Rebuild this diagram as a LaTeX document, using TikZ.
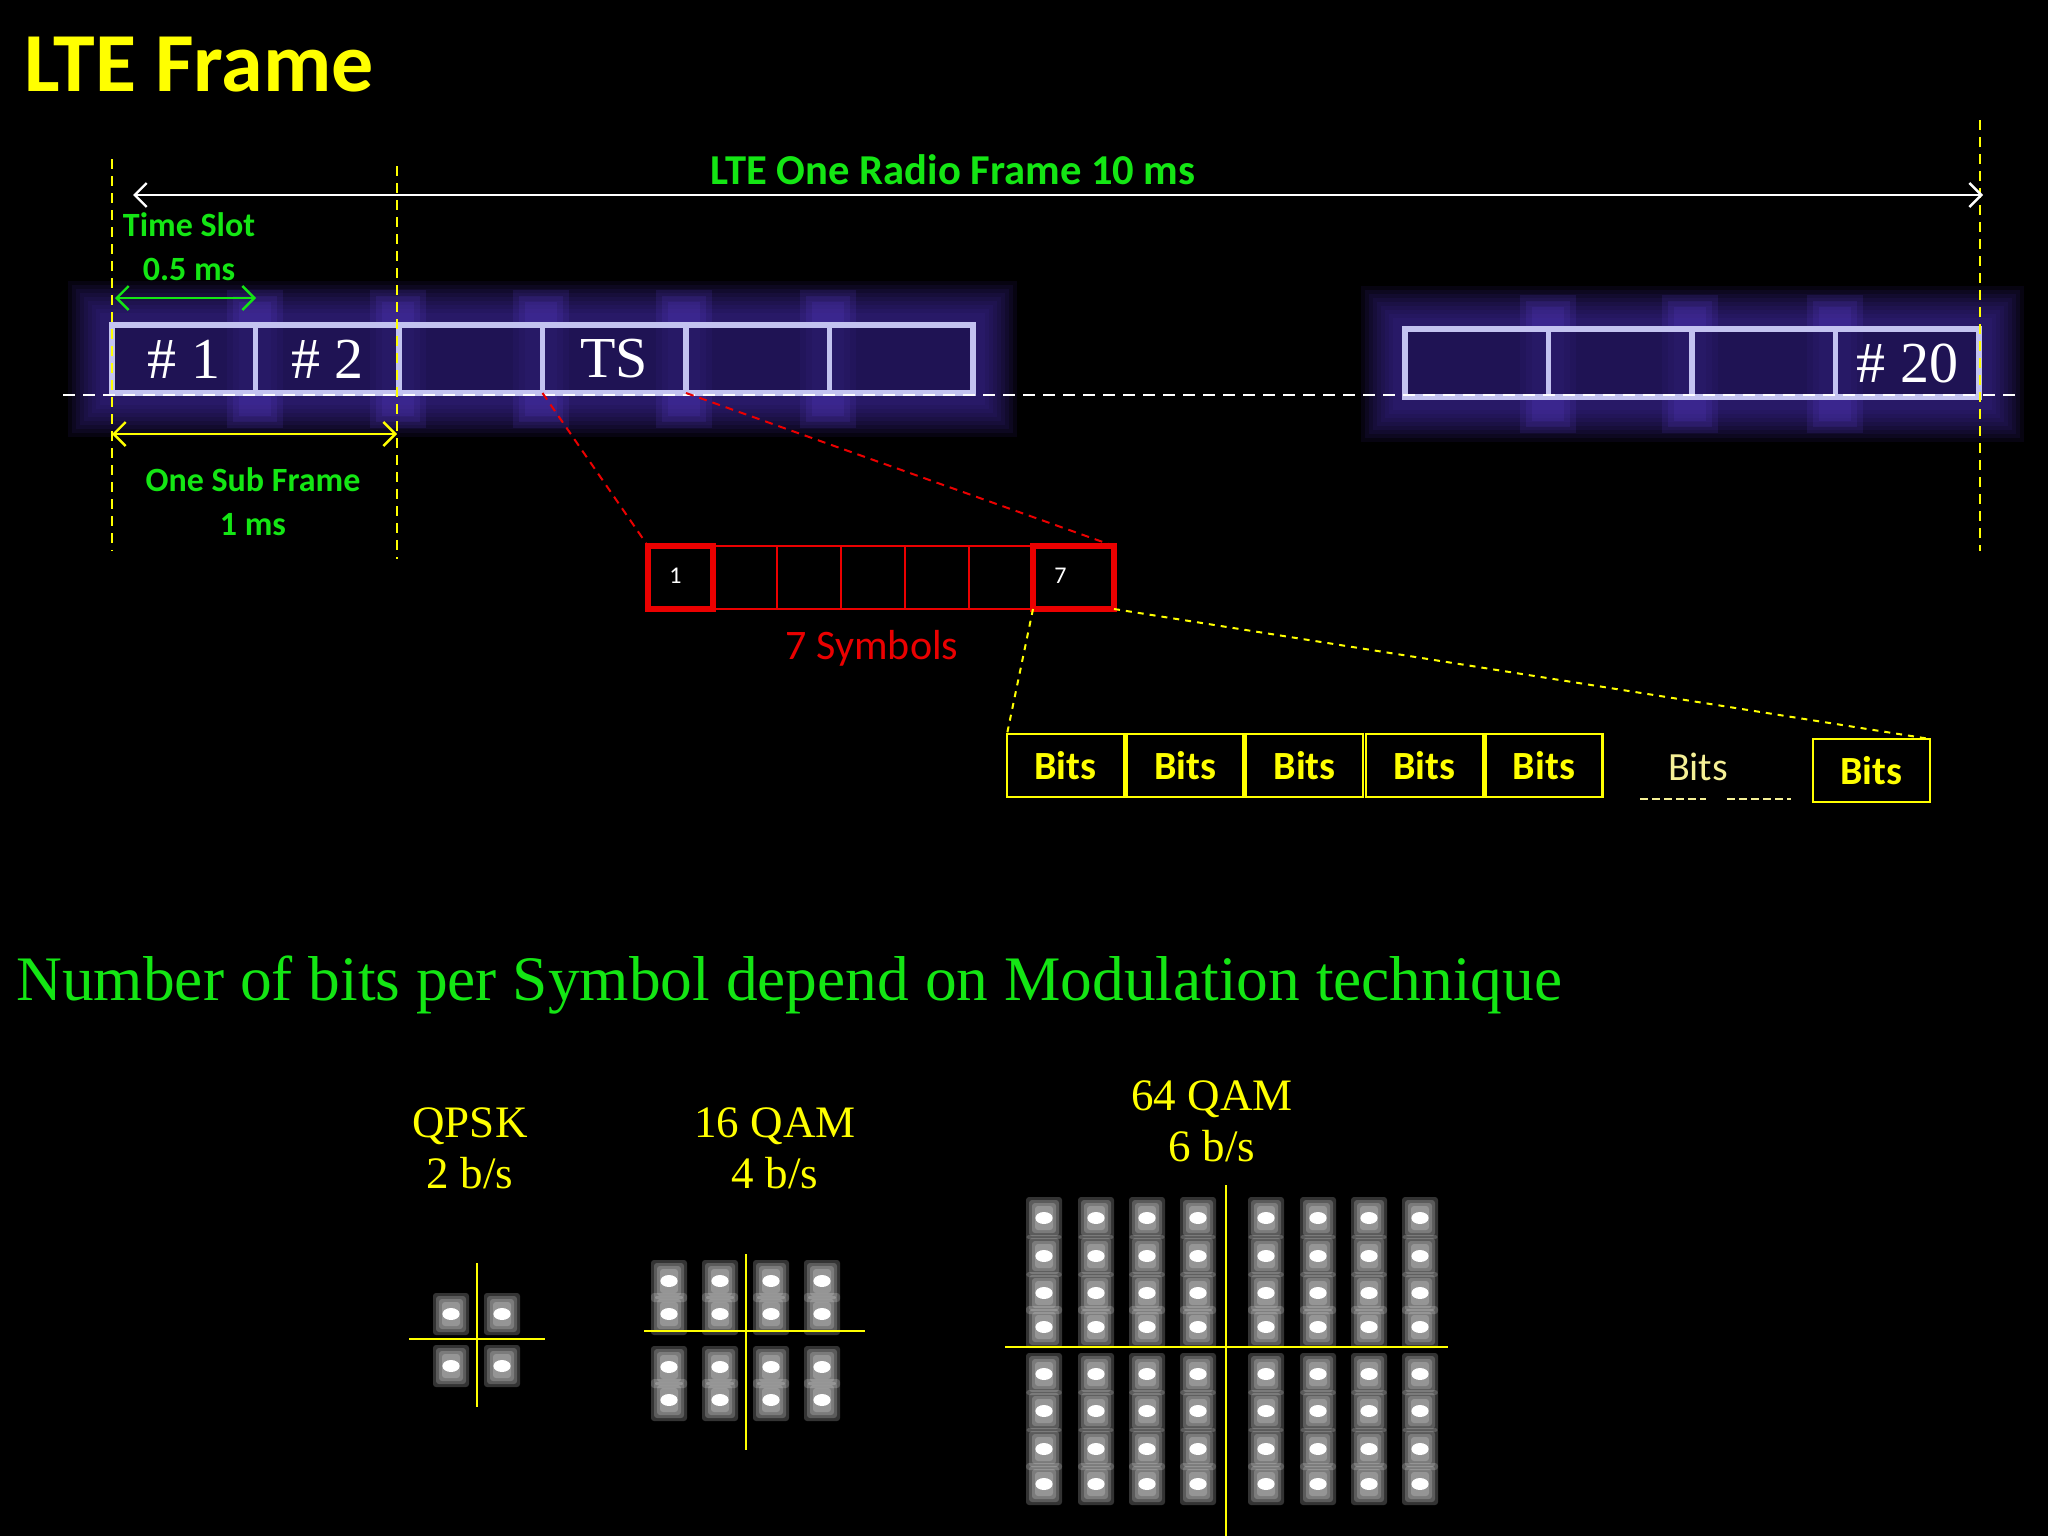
\documentclass[tikz,border=0pt]{standalone}
\usepackage{fontspec}
\setsansfont{Carlito}
\newfontfamily\slotfont{Liberation Serif}
\usetikzlibrary{arrows.meta, positioning}
\definecolor{ltegreen}{RGB}{20,230,20}
\definecolor{lteyellow}{RGB}{255,255,0}
\definecolor{paleyellow}{RGB}{245,240,150}
\definecolor{slotline}{RGB}{195,195,240}
\definecolor{slotfill}{RGB}{25,15,70}
\definecolor{glowc}{RGB}{70,45,170}
\definecolor{bandc}{RGB}{95,65,215}
\definecolor{symred}{RGB}{235,0,0}
\tikzset{
  slot/.style={rectangle,draw=slotline,line width=2.8pt,fill=slotfill,fill opacity=0.55,text opacity=1,minimum width=71.75pt,minimum height=34pt,outer sep=0pt,inner sep=0pt,text=white,font=\slotfont\fontsize{29}{30}\selectfont},
  sym/.style={rectangle,draw=symred,line width=0.8pt,minimum width=32pt,minimum height=31.5pt,outer sep=0pt,inner sep=0pt},
  symend/.style={sym,line width=2.8pt},
  symnum/.style={text=white,inner sep=0pt,font=\sffamily\fontsize{12}{12}\selectfont},
  bitbox/.style={rectangle,draw=lteyellow,line width=1.2pt,minimum width=58.5pt,minimum height=31.5pt,outer sep=0pt,inner sep=0pt,text=lteyellow,font=\sffamily\bfseries\fontsize{20}{20}\selectfont},
  glabel/.style={text=ltegreen,font=\sffamily\bfseries\fontsize{17}{20}\selectfont,align=center},
  mlabel/.style={text=lteyellow,align=center,font=\slotfont\fontsize{22.5}{25.5}\selectfont},
  vmark/.style={lteyellow,line width=0.8pt,dash pattern=on 5pt off 3.5pt},
  line/.style={<->,>={Straight Barb[length=6pt,width=12pt]},line width=1.2pt},
  link/.style={line width=1pt,dash pattern=on 4pt off 3pt},
  axis/.style={lteyellow,line width=0.8pt},
}
% purple haze behind a row of slots
\newcommand{\slotglow}[4]{%
  \foreach \g in {44,40,...,12}{
    \fill[glowc,opacity=0.1] (#1-\g,#2-\g) rectangle (#3+\g,#4+\g);
  }}
\newcommand{\slotband}[3]{%
  \foreach \bx in {#1}{
    \foreach \w in {28,22,16}{
      \fill[bandc,opacity=0.14] (\bx-\w,#2+28-\w) rectangle (\bx+\w,#3-28+\w);
    }
  }}
% one constellation point
\newcommand{\qamdot}[2]{%
  \foreach \d in {0,3,6,9}{
    \fill[white,opacity=0.2,rounded corners=1.5pt] (#1-18+\d,#2-21+\d) rectangle (#1+18-\d,#2+21-\d);
  }
  \fill[white] (#1,#2) ellipse (4.3pt and 3pt);
}

\begin{document}
\begin{tikzpicture}[x=0.5pt,y=-0.5pt]
\fill[black] (0,0) rectangle (2048,1536);
\useasboundingbox (0,0) rectangle (2048,1536);

\node[anchor=base west,text=lteyellow,font=\sffamily\bfseries\fontsize{42}{44}\selectfont,inner sep=0pt] (title) at (24,91) {LTE Frame};

% slots
\slotglow{112}{325}{973}{393}
\slotglow{1405}{330}{1980}{398}
\slotband{255,398,541,684,828}{290}{428}
\slotband{1548,1690,1835}{295}{433}
\node[slot,anchor=south west] (s1) at (112,393) {\# 1};
\node[slot,right=0pt of s1] (s2) {\# 2};
\node[slot,right=0pt of s2] (s3) {};
\node[slot,right=0pt of s3] (ts) {TS};
\node[slot,right=0pt of ts] (s5) {};
\node[slot,right=0pt of s5] (s6) {};
\node[slot,anchor=south west] (s17) at (1405,397) {};
\node[slot,right=0pt of s17] (s18) {};
\node[slot,right=0pt of s18] (s19) {};
\node[slot,right=0pt of s19] (s20) {\# 20};
\draw[white,line width=1.2pt,dash pattern=on 6pt off 4pt] (63,395) -- (2018,395);

% frame markers
\draw[vmark] (112,159) -- (112,551);
\draw[vmark] (397,166) -- (397,559);
\draw[vmark] (1980,120) -- (1980,551);

\coordinate (fa) at (133,195);
\coordinate (fb) at (1983,195);
\draw[line,white] (fa) -- (fb);
\node[glabel,font=\sffamily\bfseries\fontsize{21.3}{23}\selectfont] (frame) at (953,170) {LTE One Radio Frame 10 ms};

\node[glabel] (slotlbl) at (189,247) {Time Slot\\[2pt]0.5 ms};
\coordinate (ta) at (115,298);
\coordinate (tb) at (256,298);
\draw[line,ltegreen] (ta) -- (tb);
\coordinate (sa) at (112,434);
\coordinate (sb) at (397,434);
\draw[line,lteyellow] (sa) -- (sb);
\node[glabel] (sublbl) at (253,502) {One Sub Frame\\[2pt]1 ms};

% symbols
\node[symend,anchor=north west,minimum width=32.5pt] (sym1) at (648,546) {};
\node[sym,right=0pt of sym1] (sym2) {};
\node[sym,right=0pt of sym2] (sym3) {};
\node[sym,right=0pt of sym3] (sym4) {};
\node[sym,right=0pt of sym4] (sym5) {};
\node[sym,right=0pt of sym5] (sym6) {};
\node[symend,right=0pt of sym6,minimum width=40.5pt] (sym7) {};
\node[symnum,xshift=-2.5pt,yshift=1pt] (n1) at (sym1) {1};
\node[symnum,xshift=-6.5pt,yshift=1pt] (n7) at (sym7) {7};
\node[text=symred,font=\sffamily\fontsize{21}{22}\selectfont] (symlbl) at (872,648) {7 Symbols};
\draw[link,symred] (ts.south west) -- (sym1.north west);
\draw[link,symred] (s5.south west) -- (sym7.north east);

% bits
\node[bitbox,anchor=north west] (b1) at (1007,734) {Bits};
\node[bitbox,right=1.3pt of b1] (b2) {Bits};
\node[bitbox,right=1.3pt of b2] (b3) {Bits};
\node[bitbox,right=1.3pt of b3] (b4) {Bits};
\node[bitbox,right=1.3pt of b4] (b5) {Bits};
\node[text=paleyellow,font=\sffamily\fontsize{20}{20}\selectfont] (bdots) at (1698,767) {Bits};
\draw[paleyellow,line width=1pt,dash pattern=on 4pt off 2pt] (1640,799) -- (1706,799);
\draw[paleyellow,line width=1pt,dash pattern=on 4pt off 2pt] (1727,799) -- (1791,799);
\node[bitbox,anchor=north west] (b7) at (1813,739) {Bits};
\draw[link,lteyellow,dash pattern=on 3pt off 3pt] (sym7.south west) -- (b1.north west);
\draw[link,lteyellow,dash pattern=on 3pt off 3pt] (sym7.south east) -- (b7.north east);

\node[anchor=base west,text=ltegreen,font=\slotfont\fontsize{31.7}{32}\selectfont,inner sep=0pt] (note) at (16,1000) {Number of bits per Symbol depend on Modulation technique};

% QPSK
\node[mlabel] (qpsk) at (470,1148) {QPSK\\2 b/s};
\foreach \cx in {451,502}{\foreach \cy in {1314,1366}{\qamdot{\cx}{\cy}}}
\draw[axis] (477,1263) -- (477,1407);
\draw[axis] (409,1339) -- (545,1339);

% 16 QAM
\node[mlabel] (qam16) at (775,1148) {16 QAM\\4 b/s};
\foreach \cx in {669,720,771,822}{\foreach \cy in {1281,1314,1367,1400}{\qamdot{\cx}{\cy}}}
\draw[axis] (746,1254) -- (746,1450);
\draw[axis] (644,1331) -- (865,1331);

% 64 QAM
\node[mlabel] (qam64) at (1212,1121) {64 QAM\\6 b/s};
\foreach \cx in {1044,1096,1147,1198,1266,1318,1369,1420}{\foreach \cy in {1218,1256,1293,1327,1374,1411,1449,1484}{\qamdot{\cx}{\cy}}}
\draw[axis] (1226,1185) -- (1226,1536);
\draw[axis] (1005,1347) -- (1448,1347);
\end{tikzpicture}
\end{document}
